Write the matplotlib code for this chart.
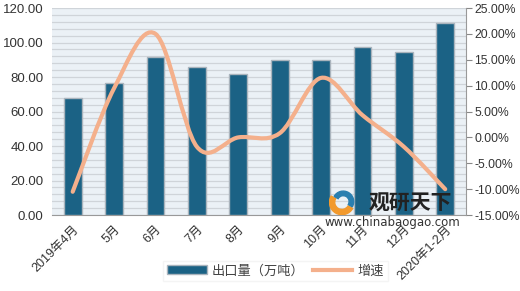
import numpy as np
import matplotlib.pyplot as plt
from matplotlib.path import Path
from matplotlib.patches import PathPatch, Wedge
from matplotlib.ticker import MultipleLocator, FuncFormatter

plt.rcParams['font.family'] = ['Liberation Sans', 'Noto Sans CJK SC', 'DejaVu Sans']

# ---- data ----
months = ["2019年4月", "5月", "6月", "7月", "8月", "9月", "10月", "11月", "12月", "2020年1-2月"]
export_vol = [67.6, 76.7, 91.8, 85.6, 81.6, 89.9, 89.9, 97.6, 94.7, 111.5]
growth = [-10.5, 9.5, 20.0, -1.8, 0.0, 0.8, 11.5, 4.3, -1.8, -10.0]

bar_color = "#1b6285"
line_color = "#f4b08c"

fig = plt.figure(figsize=(5.2, 2.91), dpi=100)
ax = fig.add_axes([0.1, 0.261, 0.796, 0.7115])
ax.set_facecolor("#ebf1f6")

x = np.arange(len(months))
bars = ax.bar(x, export_vol, width=0.43, color=bar_color, edgecolor="#aab4bd",
              linewidth=1.0, zorder=3, label="出口量（万吨）")

ax.set_ylim(0, 120)
ax.set_xlim(-0.5, len(months) - 0.5)
ax.yaxis.set_major_locator(MultipleLocator(20))
ax.yaxis.set_minor_locator(MultipleLocator(4))
ax.yaxis.set_major_formatter(FuncFormatter(lambda v, p: f"{v:.2f}"))
ax.grid(axis="y", which="both", color="#cfd4d9", linewidth=0.9, zorder=0)
ax.set_axisbelow(True)
ax.tick_params(axis="y", which="both", length=0, labelsize=9.5, colors="#333333", pad=6)
ax.set_xticks(x)
ax.set_xticklabels(months, rotation=45, ha="right", rotation_mode="anchor", fontsize=9)
ax.tick_params(axis="x", length=0, pad=6, colors="#333333")
for s in ["top", "left", "right"]:
    ax.spines[s].set_visible(False)
ax.spines["bottom"].set_color("#999999")

# ---- growth line (smoothed like Excel) ----
ax2 = ax.twinx()
ax2.set_ylim(-15, 25)
ax2.yaxis.set_major_locator(MultipleLocator(5))
ax2.yaxis.set_major_formatter(FuncFormatter(lambda v, p: f"{v:.2f}%"))
ax2.tick_params(axis="y", length=4, color="#888888", labelsize=8.8, colors="#333333", pad=2)
for s in ["top", "left", "bottom"]:
    ax2.spines[s].set_visible(False)
ax2.spines["right"].set_color("#999999")

pts = np.column_stack([x, growth]).astype(float)
ext = np.vstack([pts[0], pts, pts[-1]])
verts = [pts[0]]
codes = [Path.MOVETO]
for i in range(len(pts) - 1):
    p0, p1, p2, p3 = ext[i], ext[i + 1], ext[i + 2], ext[i + 3]
    c1 = p1 + (p2 - p0) / 6
    c2 = p2 - (p3 - p1) / 6
    verts += [c1, c2, p2]
    codes += [Path.CURVE4] * 3
ax2.add_patch(PathPatch(Path(verts, codes), facecolor="none", edgecolor=line_color,
                        linewidth=3, capstyle="round", zorder=4))
line_handle, = ax2.plot([], [], color=line_color, linewidth=3, label="增速")

# ---- watermark ----
logo_ax = fig.add_axes([0.62, 0.26, 0.075, 0.09])
logo_ax.set_xlim(-1, 1)
logo_ax.set_ylim(-1, 1)
logo_ax.set_aspect("equal")
logo_ax.axis("off")
logo_ax.add_patch(Wedge((0, 0), 0.95, 150, 330, width=0.4, color="#f29a2e"))
logo_ax.add_patch(Wedge((0.1, 0.05), 0.8, -30, 150, width=0.35, color="#2a7fb0"))
fig.text(0.79, 0.302, "观研天下", fontsize=15, fontweight="bold", color="#222222",
         ha="center", va="center", zorder=10, family="Noto Sans CJK SC")
fig.text(0.755, 0.237, "www.chinabaogao.com", fontsize=8.5, color="#333333",
         ha="center", va="center", family="DejaVu Sans", zorder=10)

# ---- legend ----
leg = fig.legend([bars, line_handle], ["出口量（万吨）", "增速"], loc="center",
                 bbox_to_anchor=(0.53, 0.068), ncol=2, frameon=True, fontsize=9.5,
                 handlelength=3.0, handleheight=0.7, columnspacing=0.6, handletextpad=0.4,
                 borderpad=0.3, fancybox=False)
leg.get_frame().set_edgecolor("#f2f2f2")
leg.get_frame().set_facecolor("white")
for t in leg.get_texts():
    t.set_color("#444444")

fig.savefig("out.png", dpi=100)
